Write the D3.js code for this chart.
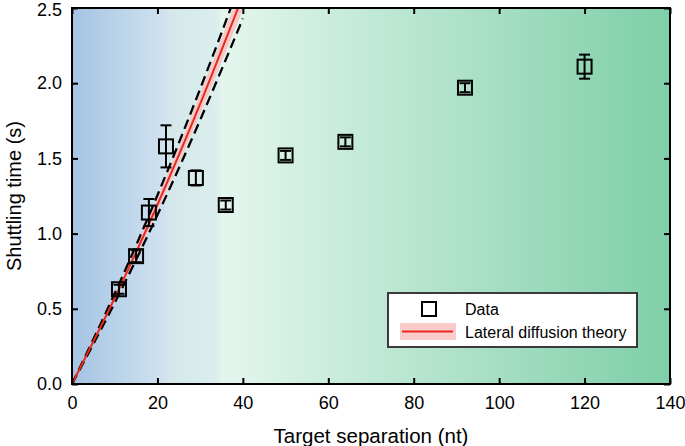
<!DOCTYPE html>
<html>
<head>
<meta charset="utf-8">
<script src="https://cdn.jsdelivr.net/npm/d3@7"></script>
<style>
  html, body { margin: 0; padding: 0; background: #ffffff; }
  svg { display: block; font-family: "Liberation Sans", Arial, Helvetica, sans-serif; }
</style>
</head>
<body>
<svg id="chart" width="685" height="446"></svg>
<script>
// ---- Data ----
const separation = [11, 15, 18, 22, 29, 36, 50, 64, 92, 120];          // nt
const shuttleTime = [0.63, 0.85, 1.14, 1.58, 1.37, 1.19, 1.52, 1.61, 1.97, 2.11]; // s
const shuttleErr = [0.03, 0.04, 0.09, 0.14, 0.05, 0.03, 0.03, 0.03, 0.03, 0.08];

// Lateral diffusion theory curve and bounds
const theoryX      = [0, 10, 20, 30, 40];
const theoryY      = [0, 0.572, 1.192, 1.862, 2.582];
const bandUpperY   = [0, 0.592, 1.234, 1.928, 2.675];
const bandLowerY   = [0, 0.552, 1.150, 1.796, 2.490];
const dashUpperY   = [0, 0.602, 1.255, 1.962, 2.715];
const dashLowerY   = [0, 0.540, 1.124, 1.755, 2.430];

const xTicks = [0, 20, 40, 60, 80, 100, 120, 140];
const yTicks = [0, 0.5, 1.0, 1.5, 2.0, 2.5];
const xTitle = "Target separation (nt)";
const yTitle = "Shuttling time (s)";
const legendLabels = ["Data", "Lateral diffusion theory"];

// ---- Layout ----
const W = 685, H = 446;
const m = { left: 72, right: 15, top: 8, bottom: 62 };
const pw = W - m.left - m.right, ph = H - m.top - m.bottom;

const svg = d3.select("#chart");
const defs = svg.append("defs");
const grad = defs.append("linearGradient").attr("id", "bg")
  .attr("x1", "0%").attr("x2", "100%").attr("y1", "0%").attr("y2", "0%");
[[0, "#a4c4e3"], [0.155, "#d0e2f0"], [0.158, "#d4e6eb"], [0.245, "#dbefed"],
 [0.25, "#e4f6ee"], [1, "#7ecfa8"]].forEach(([o, c]) =>
  grad.append("stop").attr("offset", o).attr("stop-color", c));
defs.append("clipPath").attr("id", "clip").append("rect")
  .attr("width", pw).attr("height", ph);

const g = svg.append("g").attr("transform", `translate(${m.left},${m.top})`);
const x = d3.scaleLinear().domain([0, 140]).range([0, pw]);
const y = d3.scaleLinear().domain([0, 2.5]).range([ph, 0]);

g.append("rect").attr("width", pw).attr("height", ph).attr("fill", "url(#bg)");

const plot = g.append("g").attr("clip-path", "url(#clip)");

// theory band
const band = theoryX.map((d, i) => ({ x: d, lo: bandLowerY[i], hi: bandUpperY[i] }));
plot.append("path").datum(band)
  .attr("d", d3.area().curve(d3.curveNatural).x(d => x(d.x)).y0(d => y(d.lo)).y1(d => y(d.hi)))
  .attr("fill", "#fbc4c4").attr("opacity", 0.9);

const lineGen = d3.line().curve(d3.curveNatural).x(d => x(d[0])).y(d => y(d[1]));
[dashUpperY, dashLowerY].forEach(arr => {
  plot.append("path").datum(theoryX.map((d, i) => [d, arr[i]]))
    .attr("d", lineGen).attr("fill", "none").attr("stroke", "#000")
    .attr("stroke-width", 2.3).attr("stroke-dasharray", "10,5.5");
});
plot.append("path").datum(theoryX.map((d, i) => [d, theoryY[i]]))
  .attr("d", lineGen).attr("fill", "none").attr("stroke", "#e8291f").attr("stroke-width", 2);

// data points
const pts = separation.map((d, i) => ({ x: d, y: shuttleTime[i], e: shuttleErr[i] }));
const pg = g.append("g").selectAll("g").data(pts).join("g");
pg.append("line").attr("x1", d => x(d.x)).attr("x2", d => x(d.x))
  .attr("y1", d => y(d.y - d.e)).attr("y2", d => y(d.y + d.e))
  .attr("stroke", "#000").attr("stroke-width", 2);
[-1, 1].forEach(s => {
  pg.append("line").attr("x1", d => x(d.x) - 5.5).attr("x2", d => x(d.x) + 5.5)
    .attr("y1", d => y(d.y + s * d.e)).attr("y2", d => y(d.y + s * d.e))
    .attr("stroke", "#000").attr("stroke-width", 2);
});
pg.append("rect").attr("x", d => x(d.x) - 7).attr("y", d => y(d.y) - 7)
  .attr("width", 14).attr("height", 14)
  .attr("fill", "none").attr("stroke", "#000").attr("stroke-width", 2);

// axes (ticks inward on all sides)
const tickStyle = sel => {
  sel.select(".domain").remove();
  sel.selectAll(".tick line").attr("stroke", "#000").attr("stroke-width", 2);
};
g.append("g").attr("transform", `translate(0,${ph})`)
  .call(d3.axisBottom(x).tickValues(xTicks).tickSizeInner(-6).tickSizeOuter(0).tickPadding(12).tickFormat(d3.format("d")))
  .call(tickStyle)
  .selectAll("text").attr("font-size", 18).attr("fill", "#000").attr("font-family", "Liberation Sans, Arial, sans-serif");
const yAx = g.append("g")
  .call(d3.axisLeft(y).tickValues(yTicks).tickSizeInner(-6).tickSizeOuter(0).tickPadding(10).tickFormat(d3.format(".1f")))
  .call(tickStyle);
yAx.selectAll("text").attr("font-size", 18).attr("fill", "#000").attr("font-family", "Liberation Sans, Arial, sans-serif")
  .attr("dy", d => d === 2.5 ? "0.40em" : "0.32em");
g.append("g")
  .call(d3.axisTop(x).tickValues(xTicks).tickSizeInner(-6).tickSizeOuter(0).tickFormat(""))
  .call(tickStyle);
g.append("g").attr("transform", `translate(${pw},0)`)
  .call(d3.axisRight(y).tickValues(yTicks).tickSizeInner(-6).tickSizeOuter(0).tickFormat(""))
  .call(tickStyle);

g.append("rect").attr("width", pw).attr("height", ph)
  .attr("fill", "none").attr("stroke", "#000").attr("stroke-width", 2);

// titles
svg.append("text").attr("x", m.left + pw / 2).attr("y", 443)
  .attr("text-anchor", "middle").attr("font-size", 20.5).text(xTitle);
svg.append("text").attr("transform", `translate(21,${m.top + ph / 2}) rotate(-90)`)
  .attr("text-anchor", "middle").attr("font-size", 20).text(yTitle);

// legend
const lg = svg.append("g");
lg.append("rect").attr("x", 388).attr("y", 293).attr("width", 249).attr("height", 54)
  .attr("fill", "#fff").attr("stroke", "#3a3a3a").attr("stroke-width", 2);
lg.append("rect").attr("x", 422).attr("y", 302).attr("width", 14).attr("height", 14)
  .attr("fill", "none").attr("stroke", "#000").attr("stroke-width", 2);
lg.append("rect").attr("x", 400).attr("y", 323).attr("width", 56).attr("height", 17)
  .attr("fill", "#fbc4c4").attr("opacity", 0.9);
lg.append("line").attr("x1", 402).attr("x2", 453).attr("y1", 331.5).attr("y2", 331.5)
  .attr("stroke", "#e8291f").attr("stroke-width", 2);
lg.append("text").attr("x", 465).attr("y", 315).attr("font-size", 16).text(legendLabels[0]);
lg.append("text").attr("x", 465).attr("y", 338).attr("font-size", 16).text(legendLabels[1]);
</script>
</body>
</html>
